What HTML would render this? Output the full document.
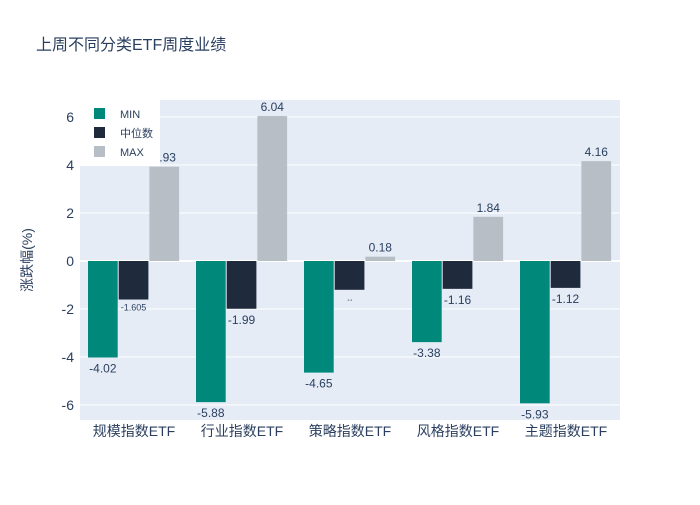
<!DOCTYPE html>
<html><head><meta charset="utf-8"><style>
body{margin:0;background:#fff;font-family:"Liberation Sans","Noto Sans CJK SC",sans-serif}
</style></head><body>
<svg id="c" width="700" height="500" xmlns="http://www.w3.org/2000/svg" style="font-family:'Liberation Sans','Noto Sans CJK SC',sans-serif">
<rect width="700" height="500" fill="#fff"/>
<text x="36" y="50" font-size="16" fill="#2a3f5f">上周不同分类ETF周度业绩</text>
<rect x="80" y="100" width="540" height="320" fill="#e5ecf6"/>
<g id="grid"></g><g id="bars"></g><g id="labels"></g>
<text transform="translate(32,260) rotate(-90)" text-anchor="middle" font-size="14" fill="#2a3f5f">涨跌幅(%)</text>
<g>
<rect x="80" y="100" width="80" height="66" fill="#fff"/>
<rect x="94" y="108" width="11" height="11" fill="#00897b"/>
<text x="120" y="118" font-size="11" fill="#2a3f5f">MIN</text>
<rect x="94" y="127" width="11" height="11" fill="#1f2a3c"/>
<text x="120" y="137" font-size="11" fill="#2a3f5f">中位数</text>
<rect x="94" y="146" width="11" height="11" fill="#b7bec6"/>
<text x="120" y="156" font-size="11" fill="#2a3f5f">MAX</text>
</g>
</svg>
<script>
const categories=["规模指数ETF","行业指数ETF","策略指数ETF","风格指数ETF","主题指数ETF"];
const minVals=[-4.02,-5.88,-4.65,-3.38,-5.93];
const medVals=[-1.605,-1.99,-1.2,-1.16,-1.12];
const maxVals=[3.93,6.04,0.18,1.84,4.16];
const medLabels=["-1.605","-1.99","-1.2","-1.16","-1.12"];
const yTicks=[-6,-4,-2,0,2,4,6];
const NS="http://www.w3.org/2000/svg";
const X0=80,W=540,bw=W/categories.length;
function y(v){return 261-v*24;}
function mk(t,a,p){const e=document.createElementNS(NS,t);for(const k in a)e.setAttribute(k,a[k]);p.appendChild(e);return e;}
const g=document.getElementById('grid'),b=document.getElementById('bars'),l=document.getElementById('labels');
yTicks.forEach(t=>{
 const ln=mk('line',{x1:80,x2:620,y1:y(t),y2:y(t),stroke:'#fff','stroke-width':t===0?2:1},g);
 
 
 const tx=mk('text',{x:74,y:y(t)+5,'text-anchor':'end','font-size':14,fill:'#2a3f5f'},g);tx.textContent=t;
 
 
});
const series=[[minVals,'#00897b','min'],[medVals,'#1f2a3c','median'],[maxVals,'#b7bec6','max']];
categories.forEach((c,i)=>{
 const cx=X0+bw*i;
 const t=mk('text',{x:cx+bw/2,y:436,'text-anchor':'middle','font-size':14,fill:'#2a3f5f'},l);t.textContent=c;
 
 
 series.forEach((s,j)=>{
  const v=s[0][i],x=cx+8+j*30.7,w=29.7;
  const top=Math.min(y(v),y(0)),h=Math.abs(y(v)-y(0));
  const r=mk('rect',{x:x,y:top,width:w,height:h,fill:s[1]},b);
  
  
  const small=(j===1&&i===0)||(j===1&&i===2);
  const txt=j===1?medLabels[i]:v.toFixed(2);
  const lt=mk('text',{x:x+w/2,y:v>=0?y(v)-5:y(v)+(small?11:15),'text-anchor':'middle','font-size':small?(i===2?3:9):12,fill:'#2a3f5f'},l);
  lt.textContent=txt;
  
  
 });
});
</script>
</body></html>
